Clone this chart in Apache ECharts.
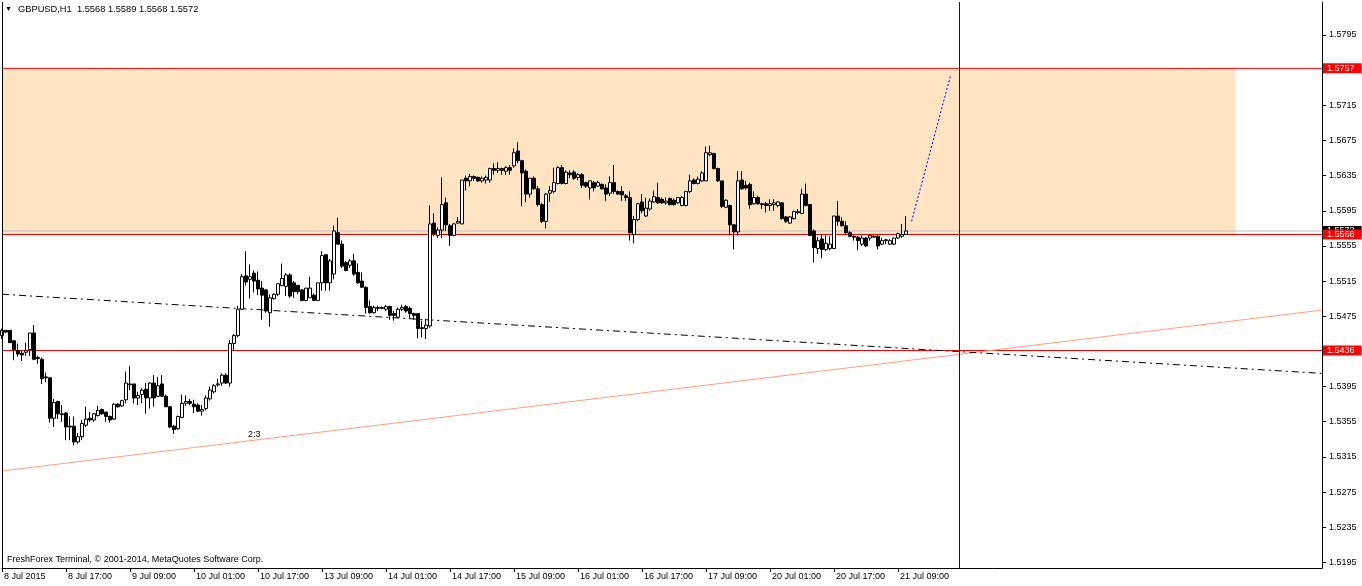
<!DOCTYPE html>
<html><head><meta charset="utf-8">
<script src="https://cdn.jsdelivr.net/npm/echarts@6/dist/echarts.min.js"></script>
<style>html,body{margin:0;padding:0;background:#fff}#c{width:1362px;height:586px}</style>
</head><body><div id="c"></div>
<script>
const symbolName = 'GBPUSD,H1';
const timeLabels = ['8 Jul 2015','8 Jul 17:00','9 Jul 09:00','10 Jul 01:00','10 Jul 17:00','13 Jul 09:00','14 Jul 01:00','14 Jul 17:00','15 Jul 09:00','16 Jul 01:00','16 Jul 17:00','17 Jul 09:00','20 Jul 01:00','20 Jul 17:00','21 Jul 09:00'];
const labelStep = 16;
const slotCount = 331;
const priceTicks = [1.5195,1.5235,1.5275,1.5315,1.5355,1.5395,1.5435,1.5475,1.5515,1.5555,1.5595,1.5635,1.5675,1.5715,1.5755,1.5795];

const opens = [
1.5453,1.5459,1.5459,1.5447,1.5436,1.5433,1.5434,1.5437,1.5456,1.5428,
1.5426,1.5406,1.5405,1.5359,1.5378,1.5363,1.5365,1.5350,1.5350,1.5332,
1.5338,1.5351,1.5359,1.5357,1.5362,1.5369,1.5366,1.5361,1.5358,1.5375,
1.5373,1.5380,1.5397,1.5398,1.5382,1.5386,1.5392,1.5382,1.5399,1.5384,
1.5398,1.5384,1.5372,1.5350,1.5347,1.5360,1.5376,1.5378,1.5375,1.5374,
1.5367,1.5370,1.5381,1.5389,1.5397,1.5399,1.5408,1.5399,1.5444,1.5453,
1.5483,1.5521,1.5517,1.5524,1.5516,1.5507,1.5505,1.5479,1.5495,1.5500,
1.5510,1.5509,1.5522,1.5513,1.5510,1.5505,1.5493,1.5496,1.5499,1.5493,
1.5513,1.5545,1.5513,1.5523,1.5570,1.5557,1.5536,1.5533,1.5538,1.5525,
1.5515,1.5508,1.5486,1.5479,1.5485,1.5484,1.5483,1.5486,1.5478,1.5474,
1.5483,1.5486,1.5484,1.5478,1.5478,1.5462,1.5461,1.5464,1.5581,1.5567,
1.5573,1.5604,1.5578,1.5567,1.5581,1.5580,1.5632,1.5629,1.5634,1.5633,
1.5629,1.5630,1.5630,1.5643,1.5641,1.5643,1.5640,1.5644,1.5646,1.5663,
1.5652,1.5640,1.5614,1.5632,1.5620,1.5602,1.5583,1.5615,1.5617,1.5626,
1.5644,1.5626,1.5638,1.5639,1.5633,1.5636,1.5627,1.5621,1.5627,1.5623,
1.5625,1.5621,1.5615,1.5627,1.5617,1.5617,1.5612,1.5610,1.5568,1.5585,
1.5605,1.5589,1.5597,1.5605,1.5610,1.5608,1.5604,1.5609,1.5607,1.5604,
1.5601,1.5601,1.5617,1.5630,1.5626,1.5629,1.5629,1.5659,1.5660,1.5643,
1.5629,1.5599,1.5601,1.5579,1.5571,1.5630,1.5624,1.5625,1.5603,1.5610,
1.5603,1.5603,1.5601,1.5602,1.5601,1.5604,1.5588,1.5581,1.5586,1.5594,
1.5592,1.5614,1.5602,1.5572,1.5552,1.5563,1.5551,1.5552,1.5552,1.5589,
1.5583,1.5578,1.5570,1.5566,1.5565,1.5557,1.5564,1.5564,1.5565,1.5566,
1.5557,1.5561,1.5557,1.5557,1.5564,1.5566,1.5568];

const closes = [
1.5459,1.5457,1.5445,1.5437,1.5432,1.5431,1.5436,1.5456,1.5426,1.5427,
1.5404,1.5405,1.5359,1.5377,1.5364,1.5364,1.5349,1.5349,1.5332,1.5338,
1.5353,1.5358,1.5357,1.5364,1.5368,1.5364,1.5361,1.5357,1.5375,1.5372,
1.5379,1.5399,1.5398,1.5382,1.5385,1.5391,1.5382,1.5399,1.5382,1.5396,
1.5384,1.5372,1.5349,1.5346,1.5361,1.5376,1.5378,1.5376,1.5372,1.5367,
1.5369,1.5382,1.5391,1.5396,1.5398,1.5408,1.5399,1.5444,1.5453,1.5483,
1.5520,1.5514,1.5520,1.5515,1.5506,1.5499,1.5481,1.5496,1.5500,1.5512,
1.5518,1.5522,1.5498,1.5503,1.5503,1.5493,1.5507,1.5507,1.5493,1.5513,
1.5544,1.5513,1.5538,1.5572,1.5557,1.5532,1.5527,1.5538,1.5523,1.5513,
1.5508,1.5485,1.5479,1.5485,1.5484,1.5485,1.5486,1.5476,1.5476,1.5483,
1.5485,1.5481,1.5478,1.5476,1.5461,1.5461,1.5465,1.5580,1.5569,1.5573,
1.5602,1.5579,1.5567,1.5580,1.5583,1.5630,1.5629,1.5634,1.5632,1.5629,
1.5632,1.5633,1.5643,1.5641,1.5643,1.5641,1.5644,1.5641,1.5661,1.5652,
1.5638,1.5614,1.5632,1.5620,1.5602,1.5583,1.5614,1.5618,1.5627,1.5644,
1.5626,1.5639,1.5636,1.5632,1.5636,1.5624,1.5623,1.5629,1.5621,1.5627,
1.5620,1.5614,1.5627,1.5617,1.5614,1.5613,1.5610,1.5570,1.5585,1.5603,
1.5595,1.5598,1.5606,1.5611,1.5604,1.5604,1.5606,1.5602,1.5602,1.5610,
1.5610,1.5617,1.5629,1.5626,1.5631,1.5638,1.5661,1.5661,1.5643,1.5629,
1.5600,1.5607,1.5579,1.5571,1.5629,1.5620,1.5621,1.5602,1.5610,1.5603,
1.5602,1.5601,1.5603,1.5604,1.5605,1.5586,1.5583,1.5588,1.5594,1.5593,
1.5614,1.5601,1.5567,1.5553,1.5561,1.5551,1.5558,1.5557,1.5589,1.5583,
1.5578,1.5570,1.5566,1.5565,1.5561,1.5564,1.5555,1.5567,1.5566,1.5555,
1.5561,1.5562,1.5561,1.5564,1.5569,1.5568,1.5572];

const lows = [
1.5449,1.5456,1.5445,1.5425,1.5429,1.5424,1.5430,1.5430,1.5425,1.5421,
1.5398,1.5400,1.5354,1.5349,1.5358,1.5355,1.5334,1.5334,1.5328,1.5330,
1.5334,1.5349,1.5355,1.5355,1.5361,1.5363,1.5355,1.5354,1.5357,1.5371,
1.5372,1.5376,1.5391,1.5376,1.5374,1.5376,1.5364,1.5370,1.5372,1.5383,
1.5383,1.5372,1.5348,1.5341,1.5346,1.5359,1.5373,1.5374,1.5365,1.5366,
1.5362,1.5368,1.5379,1.5387,1.5395,1.5396,1.5398,1.5395,1.5436,1.5451,
1.5482,1.5510,1.5495,1.5502,1.5499,1.5471,1.5479,1.5463,1.5494,1.5498,
1.5509,1.5498,1.5496,1.5496,1.5500,1.5492,1.5492,1.5496,1.5493,1.5493,
1.5504,1.5504,1.5504,1.5517,1.5557,1.5530,1.5526,1.5530,1.5521,1.5512,
1.5507,1.5478,1.5478,1.5478,1.5481,1.5483,1.5481,1.5471,1.5470,1.5473,
1.5481,1.5479,1.5472,1.5471,1.5450,1.5451,1.5449,1.5462,1.5566,1.5564,
1.5564,1.5572,1.5555,1.5566,1.5580,1.5580,1.5618,1.5623,1.5629,1.5628,
1.5627,1.5626,1.5627,1.5636,1.5638,1.5636,1.5636,1.5636,1.5644,1.5649,
1.5600,1.5605,1.5610,1.5619,1.5600,1.5581,1.5575,1.5605,1.5615,1.5625,
1.5625,1.5625,1.5632,1.5630,1.5630,1.5621,1.5621,1.5608,1.5617,1.5623,
1.5619,1.5606,1.5612,1.5614,1.5613,1.5606,1.5606,1.5561,1.5558,1.5583,
1.5592,1.5588,1.5595,1.5604,1.5603,1.5603,1.5602,1.5601,1.5601,1.5603,
1.5600,1.5600,1.5615,1.5625,1.5625,1.5628,1.5629,1.5657,1.5642,1.5628,
1.5598,1.5598,1.5567,1.5551,1.5567,1.5619,1.5619,1.5597,1.5602,1.5602,
1.5597,1.5593,1.5595,1.5595,1.5599,1.5585,1.5581,1.5580,1.5585,1.5591,
1.5591,1.5600,1.5566,1.5536,1.5546,1.5541,1.5549,1.5550,1.5552,1.5578,
1.5577,1.5568,1.5565,1.5561,1.5550,1.5555,1.5554,1.5561,1.5564,1.5551,
1.5556,1.5557,1.5556,1.5556,1.5563,1.5564,1.5568];

const highs = [
1.5461,1.5459,1.5459,1.5448,1.5444,1.5436,1.5445,1.5456,1.5465,1.5430,
1.5428,1.5411,1.5406,1.5381,1.5379,1.5374,1.5366,1.5361,1.5361,1.5342,
1.5357,1.5372,1.5366,1.5365,1.5373,1.5370,1.5366,1.5362,1.5376,1.5376,
1.5380,1.5412,1.5418,1.5398,1.5389,1.5393,1.5399,1.5400,1.5408,1.5406,
1.5408,1.5386,1.5373,1.5351,1.5362,1.5386,1.5385,1.5381,1.5380,1.5376,
1.5374,1.5385,1.5395,1.5398,1.5404,1.5410,1.5410,1.5448,1.5455,1.5487,
1.5523,1.5549,1.5534,1.5527,1.5526,1.5515,1.5506,1.5500,1.5501,1.5512,
1.5535,1.5524,1.5524,1.5515,1.5511,1.5506,1.5507,1.5520,1.5501,1.5513,
1.5549,1.5545,1.5540,1.5578,1.5587,1.5561,1.5538,1.5540,1.5546,1.5535,
1.5525,1.5509,1.5493,1.5487,1.5487,1.5486,1.5488,1.5487,1.5481,1.5485,
1.5488,1.5488,1.5486,1.5479,1.5478,1.5470,1.5472,1.5601,1.5592,1.5576,
1.5633,1.5610,1.5580,1.5581,1.5588,1.5630,1.5635,1.5637,1.5635,1.5634,
1.5634,1.5635,1.5644,1.5649,1.5650,1.5644,1.5646,1.5647,1.5666,1.5673,
1.5653,1.5642,1.5632,1.5634,1.5623,1.5604,1.5615,1.5623,1.5644,1.5646,
1.5647,1.5641,1.5641,1.5641,1.5638,1.5638,1.5628,1.5629,1.5629,1.5629,
1.5626,1.5625,1.5634,1.5647,1.5618,1.5623,1.5614,1.5617,1.5589,1.5604,
1.5614,1.5610,1.5609,1.5618,1.5627,1.5610,1.5610,1.5610,1.5609,1.5610,
1.5612,1.5617,1.5636,1.5632,1.5634,1.5640,1.5668,1.5669,1.5661,1.5644,
1.5629,1.5608,1.5602,1.5580,1.5640,1.5640,1.5629,1.5627,1.5617,1.5612,
1.5604,1.5605,1.5608,1.5608,1.5606,1.5605,1.5589,1.5589,1.5595,1.5597,
1.5620,1.5626,1.5603,1.5574,1.5565,1.5568,1.5567,1.5566,1.5589,1.5606,
1.5588,1.5583,1.5572,1.5567,1.5566,1.5567,1.5565,1.5568,1.5567,1.5567,
1.5564,1.5563,1.5563,1.5564,1.5570,1.5580,1.5589];

const zoneTop = 1.5757;
const zoneBottom = 1.5568;
const supportLevel = 1.5436;
const bidPrice = 1.5572;
const zoneEndSlot = 308.3;
const cursorSlot = 239.375;
const frameSlot = 0.125;
const fanLine = [[0, 1.5299], [330, 1.5482]];
const trendLine = [[0, 1.5500], [330, 1.5410]];
const projectionLine = [[227.4, 1.5583], [237.2, 1.5750]];
const yMin = 1.51886, yMax = 1.58325;

const FONT = 'Liberation Sans';
const slots = Array.from({length: slotCount}, (_, i) => String(i));
const showSlot = (i) => i % labelStep === 0 && (i / labelStep) < timeLabels.length;
const candles = opens.map((o, i) => [o, closes[i], lows[i], highs[i]]);
const last = candles.length - 1;
const headerText = symbolName + '  ' + [opens[last], highs[last], lows[last], closes[last]].map(v => v.toFixed(4)).join(' ');

function levelSeries(name, value, color, bg, z) {
  return {
    name: name, type: 'line', xAxisIndex: 1, yAxisIndex: 0, z: z, silent: true,
    data: [[0, value], [slotCount - 1, value]], symbol: 'none',
    lineStyle: {color: color, width: 1, type: 'solid'},
    endLabel: {show: true, distance: 1, formatter: value.toFixed(4), backgroundColor: bg,
      color: '#fff', padding: [1, 7, 0, 4], fontSize: 9, fontFamily: FONT}
  };
}
function plainLine(name, data, style, z) {
  return {name: name, type: 'line', xAxisIndex: 1, yAxisIndex: 0, z: z, silent: true,
    data: data, symbol: 'none', lineStyle: style};
}

const chart = echarts.init(document.getElementById('c'), null, {renderer: 'canvas'});
chart.setOption({
  animation: false,
  backgroundColor: '#ffffff',
  grid: {left: 2, right: 40, top: 2, bottom: 18, containLabel: false},
  xAxis: [
    {type: 'category', data: slots, boundaryGap: false, position: 'bottom',
      axisLine: {show: true, onZero: false, lineStyle: {color: '#000', width: 1}},
      axisTick: {show: true, interval: (i) => showSlot(i), length: 4, lineStyle: {color: '#000'}},
      axisLabel: {show: true, interval: (i) => showSlot(i), formatter: (v, i) => timeLabels[i / labelStep] || '',
        align: 'left', margin: 4, padding: [0, 0, 0, 2], color: '#000', fontSize: 9, fontFamily: FONT},
      splitLine: {show: false}},
    {type: 'value', min: 0, max: slotCount - 1, show: false, axisLine: {onZero: false}}
  ],
  yAxis: [
    {type: 'value', position: 'right', min: yMin, max: yMax, scale: true,
      axisLine: {show: true, onZero: false, lineStyle: {color: '#000', width: 1}},
      axisTick: {show: true, customValues: priceTicks, length: 4, lineStyle: {color: '#000'}},
      axisLabel: {show: true, customValues: priceTicks, formatter: (v) => v.toFixed(4), margin: 7,
        color: '#000', fontSize: 9, fontFamily: FONT},
      splitLine: {show: false}, minorTick: {show: false}, minorSplitLine: {show: false}}
  ],
  series: [
    {name: 'zone', type: 'line', xAxisIndex: 1, yAxisIndex: 0, z: 1, silent: true,
      data: [[0, zoneTop]], symbol: 'none', lineStyle: {opacity: 0},
      markArea: {silent: true, itemStyle: {color: '#FFE4C4'},
        data: [[{coord: [0, zoneTop]}, {coord: [zoneEndSlot, zoneBottom]}]]}},
    levelSeries('bid', bidPrice, '#C0C0C0', '#000000', 2),
    levelSeries('zoneBottom', zoneBottom, '#FF0000', '#FF0000', 3),
    levelSeries('zoneTop', zoneTop, '#FF0000', '#FF0000', 3),
    levelSeries('support', supportLevel, '#FF0000', '#FF0000', 3),
    plainLine('fan', fanLine, {color: '#FFA07A', width: 1}, 3),
    plainLine('trend', trendLine, {color: '#000', width: 1, type: [7, 4, 2, 4]}, 3),
    {name: 'candles', type: 'candlestick', xAxisIndex: 0, yAxisIndex: 0, z: 4, silent: true,
      data: candles, barWidth: 3,
      itemStyle: {color: '#FFFFFF', color0: '#000000', borderColor: '#000000', borderColor0: '#000000', borderWidth: 1}},
    plainLine('projection', projectionLine, {color: '#0000FF', width: 1, type: [2, 2]}, 5),
    plainLine('cursor', [[cursorSlot, yMin], [cursorSlot, yMax]], {color: '#0000FF', width: 1}, 5),
    plainLine('frame', [[frameSlot, yMin], [frameSlot, yMax]], {color: '#000000', width: 1}, 5)
  ],
  graphic: [
    {type: 'text', left: 5, top: 6, silent: true, style: {text: '\u25BC', fontSize: 7, fill: '#000', fontFamily: FONT}},
    {type: 'text', left: 18, top: 5, silent: true, style: {text: headerText, fontSize: 9.3, fill: '#000', fontFamily: FONT}},
    {type: 'text', left: 287, top: 166, silent: true, style: {text: 'Freshforex.org', fontSize: 20, fill: '#32CD32', fontFamily: FONT}},
    {type: 'text', left: 248, top: 430, silent: true, style: {text: '2:3', fontSize: 9, fill: '#000', fontFamily: FONT}},
    {type: 'text', left: 7, top: 555, silent: true, style: {text: 'FreshForex Terminal, \u00A9 2001-2014, MetaQuotes Software Corp.', fontSize: 9, fill: '#000', fontFamily: FONT}}
  ]
});
</script>
</body></html>
